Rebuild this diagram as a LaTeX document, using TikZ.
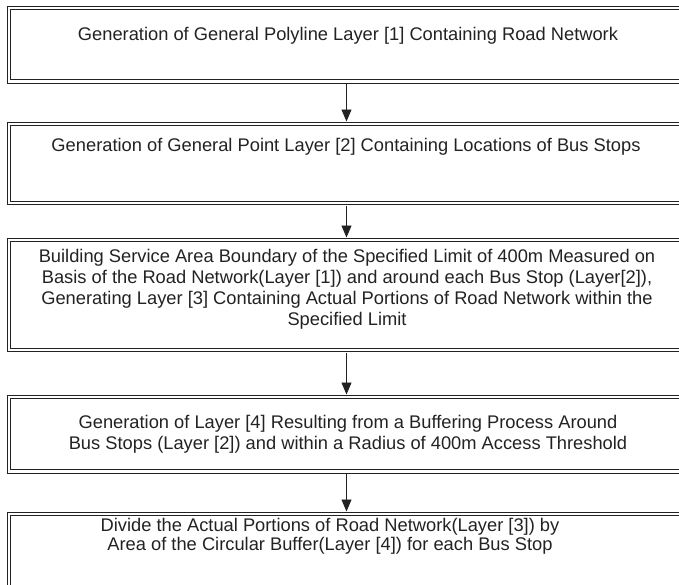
\documentclass[tikz,border=0pt]{standalone}
\usepackage{fontspec}
\setmainfont{Liberation Sans}
\usetikzlibrary{arrows.meta}
\definecolor{ink}{HTML}{222222}
\tikzset{
  flowbox/.style={draw=ink, double=white, double distance=2.6pt, line width=1pt,
    rectangle, minimum width=675pt, inner sep=0pt},
  flowtext/.style={align=center, inner sep=0pt, text=ink, anchor=base,
    font=\fontsize{18.3}{21}\selectfont},
  flowarrow/.style={draw=ink, line width=0.9pt, -{Triangle[length=12pt,width=10pt]},
    shorten <=2pt, shorten >=2pt}
}
\begin{document}
\begin{tikzpicture}[x=1pt,y=-1pt]
\useasboundingbox (0,0) rectangle (679,584);
\clip (0,0) rectangle (679,584);
\node[flowbox, minimum height=73.5pt] (b1) at (346.5,44.75) {};
\node[flowbox, minimum height=79pt] (b2) at (346.5,163.5) {};
\node[flowbox, minimum height=110pt] (b3) at (346.5,295) {};
\node[flowbox, minimum height=74.5pt] (b4) at (346.5,434.25) {};
\node[flowbox, minimum height=90pt] (b5) at (346.5,559) {};

% multi-line nodes: base anchor = baseline of the last line
\node[flowtext] (t1) at (348,40) {Generation of General Polyline Layer [1] Containing Road Network};
\node[flowtext] (t2) at (346,151) {Generation of General Point Layer [2] Containing Locations of Bus Stops};
\node[flowtext] (t3) at (347,325) {Building Service Area Boundary of the Specified Limit of 400m Measured on\\
Basis of the Road Network(Layer [1]) and around each Bus Stop (Layer[2]),\\
Generating Layer [3] Containing Actual Portions of Road Network within the\\
Specified Limit};
\node[flowtext] (t4) at (348,449) {Generation of Layer [4] Resulting from a Buffering Process Around\\
Bus Stops (Layer [2]) and within a Radius of 400m Access Threshold};
\node[flowtext, font=\fontsize{18.3}{19.5}\selectfont] (t5) at (330,550.5) {Divide the Actual Portions of Road Network(Layer [3]) by\\
Area of the Circular Buffer(Layer [4]) for each Bus Stop};

\draw[flowarrow] (b1.south) -- (b2.north);
\draw[flowarrow] (b2.south) -- (b3.north);
\draw[flowarrow] (b3.south) -- (b4.north);
\draw[flowarrow] (b4.south) -- (b5.north);
\end{tikzpicture}
\end{document}
